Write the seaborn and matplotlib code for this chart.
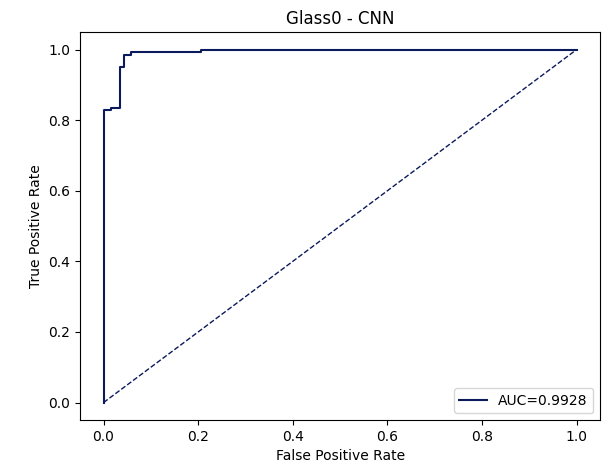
import matplotlib
matplotlib.use("Agg")
import matplotlib.pyplot as plt
import numpy as np
import pandas as pd
import seaborn as sns

# ROC curve points
fpr = [0.0, 0.0, 0.015, 0.015, 0.034, 0.034, 0.043, 0.043, 0.059, 0.059, 0.205, 0.205, 1.0]
tpr = [0.0, 0.828, 0.828, 0.834, 0.834, 0.95, 0.95, 0.986, 0.986, 0.994, 0.994, 1.0, 1.0]
chance = [0.0, 1.0]
auc = 0.9928

roc = pd.DataFrame({"fpr": fpr, "tpr": tpr})
diag = pd.DataFrame({"x": chance, "y": chance})

fig, ax = plt.subplots(figsize=(6.1, 4.7), dpi=100)
fig.subplots_adjust(left=0.131, right=0.984, top=0.932, bottom=0.106)

sns.lineplot(data=roc, x="fpr", y="tpr", sort=False, estimator=None,
             color="#0b1a5c", linewidth=1.5, label=f"AUC={auc}", ax=ax)
sns.lineplot(data=diag, x="x", y="y", sort=False, estimator=None,
             color="#0b1a5c", linewidth=1.0, linestyle="--", ax=ax)

ax.set_title("Glass0 - CNN")
ax.set_xlabel("False Positive Rate")
ax.set_ylabel("True Positive Rate")
ax.legend(loc="lower right")

plt.savefig("out.png")
